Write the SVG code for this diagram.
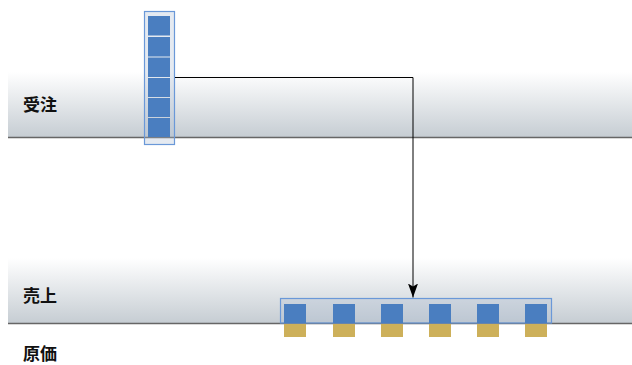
<svg xmlns="http://www.w3.org/2000/svg" width="632" height="365" viewBox="0 0 632 365">
<style>
.lbl{font-family:"Noto Sans CJK JP","Noto Sans",sans-serif;font-size:17px;font-weight:bold;fill:#111}
.lane{stroke:#666;stroke-width:1.5}
.grp{fill:#a9b8d0;fill-opacity:0.3;stroke:#6a98d8;stroke-width:1.2}
.blk{fill:#4a7ec0}
.cost{fill:#cdb05a}
</style>
<defs>
<linearGradient id="band" x1="0" y1="0" x2="0" y2="1">
<stop offset="0" stop-color="#ffffff"/>
<stop offset="1" stop-color="#c6cdd3"/>
</linearGradient>
<marker id="arr" viewBox="0 0 14 10" refX="14" refY="5" markerWidth="14" markerHeight="10" markerUnits="userSpaceOnUse" orient="auto">
<path d="M0,0 L14,5 L0,10 L3,5 Z" fill="#000"/>
</marker>
</defs>
<g id="lane-juchu">
<rect x="8" y="72" width="624" height="65" fill="url(#band)"/>
<line class="lane" x1="8" y1="137.5" x2="632" y2="137.5"/>
<text class="lbl" x="23" y="111">受注</text>
</g>
<g id="lane-uriage">
<rect x="8" y="258" width="624" height="65" fill="url(#band)"/>
<line class="lane" x1="8" y1="323.5" x2="632" y2="323.5"/>
<text class="lbl" x="23" y="302">売上</text>
</g>
<g id="lane-genka">
<text class="lbl" x="23" y="360">原価</text>
</g>
<g id="order-column">
<rect class="grp" x="144.5" y="11.5" width="30" height="133"/>
<rect class="blk" x="148" y="16" width="22" height="19.5"/>
<rect class="blk" x="148" y="37" width="22" height="19.5"/>
<rect class="blk" x="148" y="57.5" width="22" height="19.5"/>
<rect class="blk" x="148" y="78" width="22" height="19"/>
<rect class="blk" x="148" y="98" width="22" height="19"/>
<rect class="blk" x="148" y="118" width="22" height="19"/>
</g>
<g id="sales-row">
<rect class="grp" x="280.5" y="298.5" width="271" height="24.5"/>
<rect class="blk" x="284" y="304" width="22" height="19"/>
<rect class="blk" x="333" y="304" width="22" height="19"/>
<rect class="blk" x="381" y="304" width="22" height="19"/>
<rect class="blk" x="429" y="304" width="22" height="19"/>
<rect class="blk" x="477" y="304" width="22" height="19"/>
<rect class="blk" x="525" y="304" width="22" height="19"/>
<rect class="cost" x="284" y="324" width="22" height="13"/>
<rect class="cost" x="333" y="324" width="22" height="13"/>
<rect class="cost" x="381" y="324" width="22" height="13"/>
<rect class="cost" x="429" y="324" width="22" height="13"/>
<rect class="cost" x="477" y="324" width="22" height="13"/>
<rect class="cost" x="525" y="324" width="22" height="13"/>
</g>
<g id="connectors">
<path d="M175,77.5 H413 V297.5" fill="none" stroke="#000" stroke-width="1" marker-end="url(#arr)"/>
</g>
</svg>
